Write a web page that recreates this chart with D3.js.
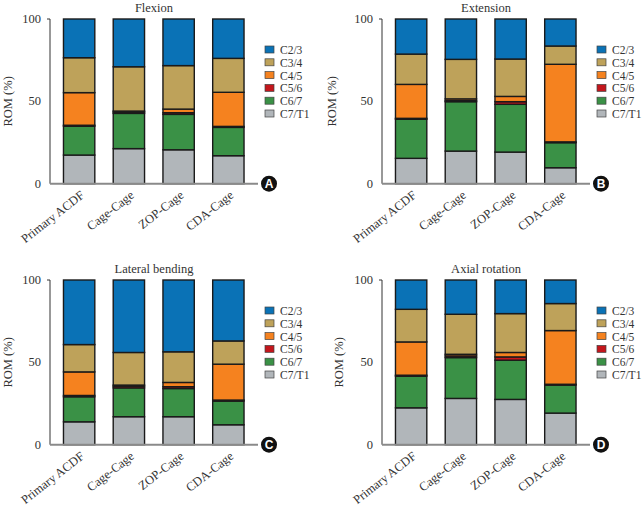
<!DOCTYPE html>
<html><head><meta charset="utf-8">
<script src="https://cdn.jsdelivr.net/npm/d3@7"></script>
<style>body{margin:0;background:#fff}svg{display:block}text{font-family:"Liberation Serif","DejaVu Serif",serif}</style>
</head><body><svg id="c" width="643" height="509"></svg>
<script>
const categories = ["Primary ACDF","Cage-Cage","ZOP-Cage","CDA-Cage"];
const levels = ["C2/3","C3/4","C4/5","C5/6","C6/7","C7/T1"];
const yTicks = [0,50,100];
const panelTitles = ["Flexion","Extension","Lateral bending","Axial rotation"];
const panelLetters = ["A","B","C","D"];
// values per category, stacking order bottom->top: C7/T1, C6/7, C5/6, C4/5, C3/4, C2/3
const flexion = {
  "C7/T1":[17.4,21.3,20.6,17.0],
  "C6/7":[17.5,21.4,21.5,17.2],
  "C5/6":[0.6,0.8,1.0,0.6],
  "C4/5":[19.8,0.6,2.2,20.7],
  "C3/4":[21.2,26.9,26.4,20.6],
  "C2/3":[23.5,29.0,28.3,23.9]
};
const extension = {
  "C7/T1":[15.4,19.8,19.2,9.7],
  "C6/7":[23.7,30.0,29.0,15.2],
  "C5/6":[0.6,0.6,1.6,0.5],
  "C4/5":[20.6,1.1,3.2,47.1],
  "C3/4":[18.4,24.0,22.7,11.1],
  "C2/3":[21.3,24.5,24.3,16.4]
};
const lateral = {
  "C7/T1":[13.9,17.0,17.0,12.1],
  "C6/7":[15.2,17.5,17.1,14.4],
  "C5/6":[0.8,1.0,1.1,0.6],
  "C4/5":[14.3,0.7,2.6,21.8],
  "C3/4":[16.6,19.8,18.6,14.1],
  "C2/3":[39.2,44.0,43.6,37.0]
};
const axial = {
  "C7/T1":[22.4,28.1,27.5,19.2],
  "C6/7":[19.2,24.8,23.8,17.0],
  "C5/6":[0.6,1.0,2.0,0.5],
  "C4/5":[20.2,1.0,2.7,32.6],
  "C3/4":[19.8,24.3,23.6,16.4],
  "C2/3":[17.8,20.8,20.4,14.3]
};
const panelData = [flexion, extension, lateral, axial];
const colors = {"C2/3":"#0a72b6","C3/4":"#bea25a","C4/5":"#f5821f","C5/6":"#c3161c","C6/7":"#3a9146","C7/T1":"#b1b6ba"};

const svg = d3.select("#c");
const offsets = [[0,0],[332,0],[0,261],[332,261]];
const yLabelOffsets = [38,46,38,39];
const stackOrder = ["C7/T1","C6/7","C5/6","C4/5","C3/4","C2/3"];

panelData.forEach((data, pi) => {
  const [ox, oy] = offsets[pi];
  const g = svg.append("g").attr("transform", `translate(${ox},${oy})`);
  const x0 = 50, x1 = 258, yTop = 19, yBot = 183.7;
  const y = d3.scaleLinear().domain([0,100]).range([yBot, yTop]);
  const x = d3.scaleBand().domain(categories).range([58.5, 249]).paddingInner(0.37).paddingOuter(0.1);
  const rows = categories.map((c,i) => { const o = {cat:c}; stackOrder.forEach(k => o[k] = data[k][i]); return o; });
  const series = d3.stack().keys(stackOrder)(rows);

  // bars
  series.forEach(s => {
    g.selectAll(null).data(s).enter().append("rect")
      .attr("x", d => x(d.data.cat))
      .attr("width", x.bandwidth())
      .attr("y", d => y(d[1]))
      .attr("height", d => Math.max(0, y(d[0]) - y(d[1])))
      .attr("fill", colors[s.key])
      .attr("stroke", "#1a1a1a").attr("stroke-width", 1.4);
  });

  // y axis
  g.append("line").attr("x1", x0).attr("x2", x0).attr("y1", yTop).attr("y2", yBot).attr("stroke", "#333").attr("stroke-width", 1);
  g.append("line").attr("x1", x0-3).attr("x2", x0).attr("y1", yTop).attr("y2", yTop).attr("stroke", "#333").attr("stroke-width", 1);
  g.selectAll(null).data(yTicks).enter().append("text")
    .attr("x", x0 - 9).attr("y", d => y(d) + 4).attr("text-anchor", "end")
    .attr("font-size", 12.5).attr("fill", "#333").text(d => d);
  // x axis
  g.append("line").attr("x1", x0).attr("x2", x1).attr("y1", yBot).attr("y2", yBot).attr("stroke", "#8a8a8a").attr("stroke-width", 2);
  // x labels
  g.selectAll(null).data(categories).enter().append("text")
    .attr("transform", d => `translate(${x(d) + x.bandwidth()/2 + 6},${yBot + 13}) rotate(-38)`)
    .attr("text-anchor", "end").attr("font-size", 12.5).attr("fill", "#333").text(d => d);
  // y label
  g.append("text").attr("transform", `translate(${x0 - yLabelOffsets[pi]},${(yTop+yBot)/2}) rotate(-90)`)
    .attr("text-anchor", "middle").attr("font-size", 12.5).attr("fill", "#333").text("ROM (%)");
  // title
  g.append("text").attr("x", 154).attr("y", 12).attr("text-anchor", "middle")
    .attr("font-size", 12.5).attr("fill", "#333").text(panelTitles[pi]);
  // legend
  const lg = g.selectAll(null).data(levels).enter().append("g")
    .attr("transform", (d,i) => `translate(265,${50 + i*12.8})`);
  lg.append("rect").attr("x", 0).attr("y", -4).attr("width", 9).attr("height", 7)
    .attr("fill", d => colors[d]).attr("stroke", "#444").attr("stroke-width", 0.7);
  lg.append("text").attr("x", 15).attr("y", 4).attr("font-size", 11.5).attr("fill", "#333").text(d => d);
  // panel letter
  g.append("circle").attr("cx", 269).attr("cy", yBot).attr("r", 8).attr("fill", "#111");
  g.append("text").attr("x", 269).attr("y", yBot + 4.5).attr("text-anchor", "middle")
    .attr("font-size", 12).attr("font-weight", "bold").attr("fill", "#fff")
    .style("font-family", "'Liberation Sans', Arial, sans-serif").text(panelLetters[pi]);
});
</script></body></html>
